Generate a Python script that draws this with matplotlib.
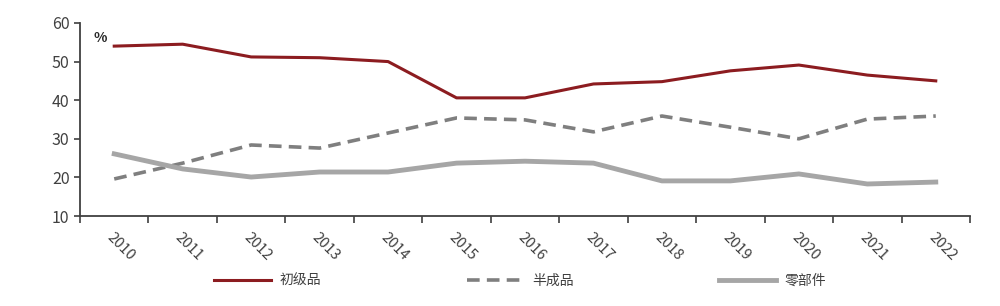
import numpy as np
import matplotlib.pyplot as plt

plt.rcParams['font.family'] = ['Noto Sans CJK SC', 'DejaVu Sans']

years = [str(y) for y in range(2010, 2023)]
primary = [54.0, 54.5, 51.2, 51.0, 50.0, 40.6, 40.6, 44.2, 44.8, 47.6, 49.1, 46.5, 45.0]
semi = [19.6, 23.7, 28.4, 27.6, 31.5, 35.4, 34.9, 31.8, 35.9, 33.0, 30.0, 35.1, 35.9]
parts = [26.1, 22.2, 20.1, 21.4, 21.4, 23.7, 24.2, 23.7, 19.1, 19.1, 20.9, 18.3, 18.8]
names = ['初级品', '半成品', '零部件']

fig = plt.figure(figsize=(10, 3.06), dpi=100)
ax = fig.add_axes([0.08, 0.294, 0.89, 0.631])

x = np.arange(len(years))
ax.plot(x, primary, color='#8c1c20', lw=2.2, label=names[0])
ax.plot(x, semi, color='#7f7f7f', lw=2.6, ls=(0, (3.5, 2)), label=names[1])
ax.plot(x, parts, color='#a6a6a6', lw=3.5, label=names[2])

ax.set_xlim(-0.5, len(years) - 0.5)
ax.set_ylim(10, 60)
ax.set_yticks(range(10, 61, 10))
ax.set_xticks(x)
ax.set_xticklabels(years, rotation=-45, ha='left', va='top', rotation_mode='anchor')
ax.set_xticks(np.arange(-0.5, len(years)), minor=True)
ax.tick_params(axis='x', which='major', length=0, pad=10, labelsize=10.5, labelcolor='#404040')
ax.tick_params(axis='x', which='minor', length=5, width=1.2, color='#404040', direction='out')
ax.tick_params(axis='y', length=4, width=1.2, color='#404040', labelsize=11.5, labelcolor='#404040')

for s in ['top', 'right']:
    ax.spines[s].set_visible(False)
for s in ['left', 'bottom']:
    ax.spines[s].set_color('#404040')
    ax.spines[s].set_linewidth(1.3)

ax.text(0.015, 0.9, '%', transform=ax.transAxes, fontsize=10, fontweight='bold', color='#262626')

fig.legend(loc='lower center', bbox_to_anchor=(0.52, 0.02), ncol=3, frameon=False,
           fontsize=10, handlelength=4.1, columnspacing=10.5, handletextpad=0.6,
           labelcolor='#404040')

fig.savefig('out.png')
